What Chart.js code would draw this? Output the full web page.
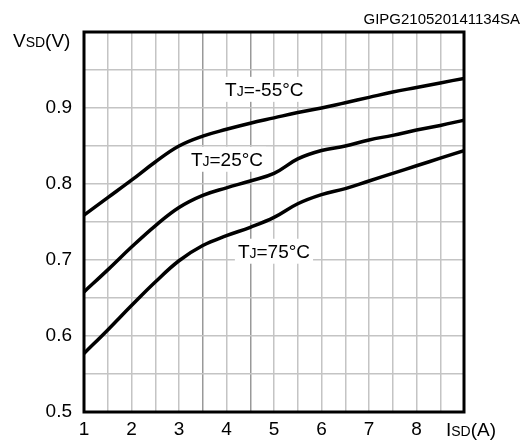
<!DOCTYPE html>
<html>
<head>
<meta charset="utf-8">
<script src="https://cdn.jsdelivr.net/npm/chart.js@4"></script>
<style>
  html, body { margin: 0; padding: 0; background: #fff; }
  #mycanvas { display: block; }
</style>
</head>
<body>
<canvas id="mycanvas" width="523" height="442"></canvas>
<script>
// source current Isd (A)
var current = [1, 1.5, 2, 2.5, 3, 3.5, 4, 4.5, 5, 5.5, 6, 6.5, 7, 7.5, 8, 8.5, 9];
// Vsd (V) for each junction temperature
var vsdMinus55 = [0.759, 0.782, 0.805, 0.829, 0.850, 0.863, 0.872, 0.880, 0.887, 0.894, 0.900, 0.907, 0.914, 0.921, 0.927, 0.933, 0.939];
var vsd25 = [0.658, 0.687, 0.717, 0.745, 0.769, 0.785, 0.795, 0.804, 0.814, 0.833, 0.844, 0.850, 0.858, 0.864, 0.871, 0.877, 0.884];
var vsd75 = [0.577, 0.608, 0.640, 0.671, 0.699, 0.719, 0.732, 0.743, 0.756, 0.774, 0.786, 0.794, 0.804, 0.814, 0.824, 0.834, 0.844];
var xTickLabels = ['1', '2', '3', '4', '5', '6', '7', '8'];
var yTickLabels = ['0.5', '0.6', '0.7', '0.8', '0.9'];
var curveLabels = ['-55°C', '25°C', '75°C'];

function toPoints(ys){
	var pts = [];
	for (var i in current){
		pts.push({x: current[i], y: ys[i]});
	}
	return pts;
}

function lineSet(ys){
	return {
		data: toPoints(ys),
		borderColor: '#000',
		borderWidth: 3.5,
		pointRadius: 0,
		fill: false,
		tension: 0.4
	};
}

// draw "T" + small "J" + rest, returns width
function subText(ctx, x, y, big, small, rest, bigSize, smallSize, dry){
	ctx.font = bigSize + 'px "Liberation Sans", Arial, sans-serif';
	var w1 = ctx.measureText(big).width;
	var w3 = ctx.measureText(rest).width;
	ctx.font = smallSize + 'px "Liberation Sans", Arial, sans-serif';
	var w2 = ctx.measureText(small).width;
	if (!dry){
		ctx.font = bigSize + 'px "Liberation Sans", Arial, sans-serif';
		ctx.fillText(big, x, y);
		ctx.font = smallSize + 'px "Liberation Sans", Arial, sans-serif';
		ctx.fillText(small, x + w1, y);
		ctx.font = bigSize + 'px "Liberation Sans", Arial, sans-serif';
		ctx.fillText(rest, x + w1 + w2, y);
	}
	return w1 + w2 + w3;
}

var textPlugin = {
	id: 'texts',
	afterDraw: function(chart){
		var ctx = chart.ctx;
		var xs = chart.scales.x, ys = chart.scales.y;
		var a = chart.chartArea;
		ctx.save();
		ctx.textAlign = 'left';
		ctx.textBaseline = 'alphabetic';
		ctx.fillStyle = '#000';

		// curve labels with white box behind
		var spots = [[3.97, 0.916], [3.25, 0.824], [4.24, 0.703]];
		for (var i = 0; i < curveLabels.length; i++){
			var px = xs.getPixelForValue(spots[i][0]);
			var py = ys.getPixelForValue(spots[i][1]);
			var w = subText(ctx, px, py, 'T', 'J', '=' + curveLabels[i], 19, 14, true);
			ctx.fillStyle = '#fff';
			ctx.fillRect(px - 3, py - 19, w + 6, 25);
			ctx.fillStyle = '#000';
			subText(ctx, px, py, 'T', 'J', '=' + curveLabels[i], 19, 14, false);
		}

		// frame
		ctx.strokeStyle = '#000';
		ctx.lineWidth = 3;
		ctx.strokeRect(a.left, a.top, a.right - a.left, a.bottom - a.top);

		// axis titles
		subText(ctx, 13, 47, 'V', 'SD', '(V)', 19, 14, false);
		subText(ctx, 446, 436, 'I', 'SD', '(A)', 19, 14, false);

		ctx.font = '15px "Liberation Sans", Arial, sans-serif';
		ctx.textAlign = 'right';
		ctx.fillText('GIPG210520141134SA', 520, 24);
		ctx.restore();
	}
};

var ctx = document.getElementById('mycanvas');
var chart = new Chart(ctx, {
	type: 'line',
	data: {
		datasets: [lineSet(vsdMinus55), lineSet(vsd25), lineSet(vsd75)]
	},
	options: {
		responsive: false,
		animation: false,
		layout: { padding: { top: 32, right: 59, left: 0, bottom: 0 } },
		plugins: { legend: { display: false }, tooltip: { enabled: false } },
		scales: {
			x: {
				type: 'linear',
				min: 1,
				max: 9,
				afterFit: function(s){ s.height = 30; },
				ticks: {
					stepSize: 0.5,
					autoSkip: false,
					maxRotation: 0,
					padding: 6,
					color: '#000',
					font: { size: 19, family: '"Liberation Sans", Arial, sans-serif' },
					callback: function(v){
						var k = xTickLabels.indexOf(String(v));
						return k >= 0 ? xTickLabels[k] : '';
					}
				},
				grid: {
					drawTicks: false,
					lineWidth: 1.5,
					color: function(c){
						var v = c.tick ? c.tick.value : 0;
						return (v === 3.5 || v === 4.5) ? '#999' : '#c4c4c4';
					}
				},
				border: { display: false }
			},
			y: {
				min: 0.5,
				max: 1.0,
				afterFit: function(s){ s.width = 84; },
				ticks: {
					stepSize: 0.05,
					padding: 12,
					color: '#000',
					font: { size: 19, family: '"Liberation Sans", Arial, sans-serif' },
					callback: function(v){
						var t = (Math.round(v * 100) / 100).toFixed(1);
						if (Math.abs(v * 10 - Math.round(v * 10)) > 1e-6) return '';
						return yTickLabels.indexOf(t) >= 0 ? t : '';
					}
				},
				grid: {
					drawTicks: false,
					lineWidth: 1.5,
					color: '#c4c4c4'
				},
				border: { display: false }
			}
		}
	},
	plugins: [textPlugin]
});
</script>
</body>
</html>
